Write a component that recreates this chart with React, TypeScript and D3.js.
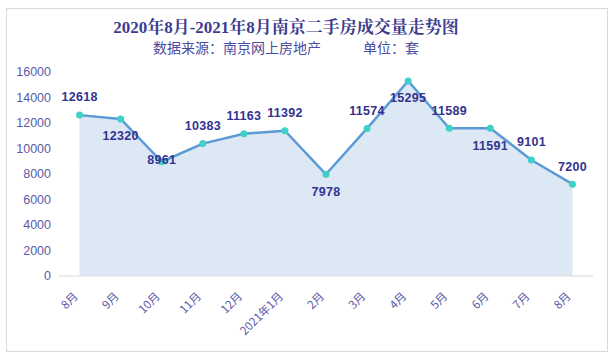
import React from 'react';
import * as d3 from 'd3';

const months = ['8月', '9月', '10月', '11月', '12月', '2021年1月', '2月', '3月', '4月', '5月', '6月', '7月', '8月'];
const volumes = [12618, 12320, 8961, 10383, 11163, 11392, 7978, 11574, 15295, 11589, 11591, 9101, 7200];
const labelPos = ['above', 'below', 'center', 'above', 'above', 'above', 'below', 'above', 'below', 'above', 'below', 'above', 'above'];
const yTicks = [0, 2000, 4000, 6000, 8000, 10000, 12000, 14000, 16000];
const title = '2020年8月-2021年8月南京二手房成交量走势图';
const subtitle = '数据来源：南京网上房地产　　　单位：套';

const W = 614, H = 359;
const left = 59, right = 593, top = 72, bottom = 276;

export default function App() {
  const idx = months.map((_, i) => String(i));
  const x = d3.scaleBand().domain(idx).range([left, right]);
  const cx = (i: number) => (x(String(i)) as number) + x.bandwidth() / 2;
  const y = d3.scaleLinear().domain([0, 16000]).range([bottom, top]);
  const line = d3.line<number>().x((_, i) => cx(i)).y(d => y(d));
  const area = d3.area<number>().x((_, i) => cx(i)).y0(y(0)).y1(d => y(d));
  const cjk = '"Noto Sans CJK SC", "Noto Sans", sans-serif';
  const num = "'Liberation Sans', Arial, sans-serif";
  return (
    <svg width={W} height={H} style={{ position: 'absolute', left: 0, top: 0 }} fontFamily={cjk}>
      <rect x={0} y={0} width={W} height={H} fill="#fff" />
      <rect x={6.5} y={8.5} width={601} height={343} fill="#fff" stroke="#d9d9d9" />
      <path d={area(volumes) || ''} fill="#dde8f5" />
      <line x1={left} x2={right} y1={y(0)} y2={y(0)} stroke="#d9d9d9" strokeWidth={1} />
      {yTicks.map(t => (
        <text key={t} x={51} y={y(t)} dy="0.35em" textAnchor="end" fontSize={12.5} fill="#5a5aa8"
          fontFamily={num}>{t}</text>
      ))}
      {months.map((m, i) => (
        <text key={i} transform={`translate(${cx(i) - 1},${297}) rotate(-45)`} textAnchor="end" fontSize={11.5}
          fill="#5a5aa8">{m}</text>
      ))}
      <path d={line(volumes) || ''} fill="none" stroke="#5b9bd5" strokeWidth={2.5} strokeLinejoin="round" />
      {volumes.map((v, i) => (
        <circle key={i} cx={cx(i)} cy={y(v)} r={3.5} fill="#3fd0c8" />
      ))}
      {volumes.map((v, i) => {
        const p = labelPos[i];
        const dy = p === 'above' ? -18 : p === 'below' ? 17 : -2;
        return (
          <text key={i} x={cx(i)} y={y(v) + dy} dy="0.35em" textAnchor="middle" fontSize={12.5} fontWeight="bold"
            fill="#33338f" fontFamily={num} letterSpacing={0.3}>{v}</text>
        );
      })}
      <text x={286} y={33} textAnchor="middle" fontSize={17} fontWeight="bold" fill="#3d3d8f"
        fontFamily="'Liberation Serif', 'Noto Serif CJK SC', 'Noto Sans CJK SC', serif">{title}</text>
      <text x={286} y={53} textAnchor="middle" fontSize={14} fill="#4b4ba0" fontFamily={cjk}>{subtitle}</text>
    </svg>
  );
}
